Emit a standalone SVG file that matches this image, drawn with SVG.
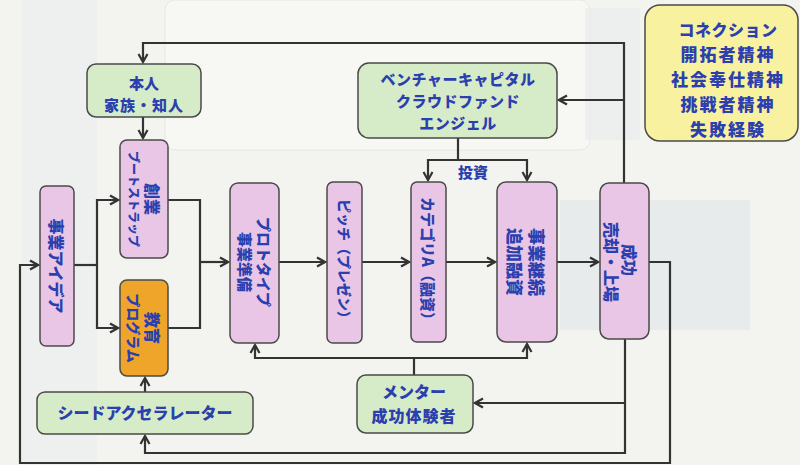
<svg xmlns="http://www.w3.org/2000/svg" width="800" height="465" viewBox="0 0 800 465">
<defs>
<style>
.bg{fill:#f3f4ef}
.box{stroke:#4a4a4a;stroke-width:1.5}
.pink{fill:#e9c6e6}
.green{fill:#d6ecc8}
.orange{fill:#eea52a}
.yellow{fill:#f7f1a0}
.t{font-family:"Noto Sans CJK JP","Noto Sans",sans-serif;font-weight:900;fill:#2b3fae;text-anchor:middle}
.v{dominant-baseline:central}
.c{fill:none;stroke:#333;stroke-width:2.2;stroke-linejoin:miter}
</style>
<marker id="ah" markerUnits="userSpaceOnUse" markerWidth="12" markerHeight="12" viewBox="0 0 12 12" refX="10" refY="6" orient="auto">
<path d="M2,1.5 L10,6 L2,10.5" fill="none" stroke="#333" stroke-width="2.2"/>
</marker>
</defs>
<rect class="bg" x="0" y="0" width="800" height="465"/>
<rect x="22" y="0" width="75" height="465" fill="#e6eaed" opacity="0.45"/>
<rect x="165" y="0" width="425" height="150" rx="10" fill="#f7f8f3" stroke="#e6e8e2" stroke-width="1"/>
<rect x="560" y="200" width="190" height="130" fill="#e4e8eb" opacity="0.8"/>
<rect x="585" y="8" width="55" height="132" fill="#e7ebed" opacity="0.6"/>

<g id="connectors">
<path class="c" d="M624,183 V43 H143 V62" marker-end="url(#ah)"/>
<path class="c" d="M624,100 H559" marker-end="url(#ah)"/>
<path class="c" d="M143,117 V138" marker-end="url(#ah)"/>
<path class="c" d="M74,265 H97"/>
<path class="c" d="M97,265 V200 H118" marker-end="url(#ah)"/>
<path class="c" d="M97,265 V328 H118" marker-end="url(#ah)"/>
<path class="c" d="M168,200 H200 V328 H168"/>
<path class="c" d="M200,262 H228" marker-end="url(#ah)"/>
<path class="c" d="M279,262 H325" marker-end="url(#ah)"/>
<path class="c" d="M362,262 H409" marker-end="url(#ah)"/>
<path class="c" d="M446,262 H495" marker-end="url(#ah)"/>
<path class="c" d="M557,262 H598" marker-end="url(#ah)"/>
<path class="c" d="M649,262 H670 V463 H20 V265 H38" marker-end="url(#ah)"/>
<path class="c" d="M625,339 V453 H145 V436" marker-end="url(#ah)"/>
<path class="c" d="M625,403 H475" marker-end="url(#ah)"/>
<path class="c" d="M414,375 V358"/>
<path class="c" d="M414,358 H255 V345" marker-end="url(#ah)"/>
<path class="c" d="M414,358 H527 V344" marker-end="url(#ah)"/>
<path class="c" d="M145,392 V378" marker-end="url(#ah)"/>
<path class="c" d="M458,138 V160"/>
<path class="c" d="M458,160 H428 V180" marker-end="url(#ah)"/>
<path class="c" d="M458,160 H527 V180" marker-end="url(#ah)"/>
<text class="t" x="473" y="178" font-size="15">投資</text>
</g>

<g id="honnin">
<rect class="box green" x="87" y="64" width="114" height="53" rx="9"/>
<text class="t" x="144" y="89" font-size="15">本人</text>
<text class="t" x="144" y="111" font-size="15" letter-spacing="1">家族・知人</text>
</g>

<g id="vc">
<rect class="box green" x="358" y="63" width="199" height="75" rx="11"/>
<text class="t" x="458" y="85" font-size="15" letter-spacing="0.5">ベンチャーキャピタル</text>
<text class="t" x="458" y="107" font-size="15" letter-spacing="0.5">クラウドファンド</text>
<text class="t" x="458" y="129" font-size="15" letter-spacing="0.5">エンジェル</text>
</g>

<g id="values">
<rect class="box yellow" x="645" y="5" width="153" height="136" rx="15"/>
<text class="t" x="728" y="36" font-size="16" letter-spacing="0.5">コネクション</text>
<text class="t" x="728" y="61" font-size="17" letter-spacing="2">開拓者精神</text>
<text class="t" x="728" y="86" font-size="17" letter-spacing="2">社会奉仕精神</text>
<text class="t" x="728" y="111" font-size="17" letter-spacing="2">挑戦者精神</text>
<text class="t" x="728" y="136" font-size="17" letter-spacing="2">失敗経験</text>
</g>

<g id="idea">
<rect class="box pink" x="40" y="186" width="34" height="160" rx="6"/>
<text class="t v" transform="translate(57,266) rotate(90)" font-size="16">事業アイデア</text>
</g>

<g id="sogyo">
<rect class="box pink" x="120" y="140" width="48" height="118" rx="7"/>
<g transform="translate(144,199) rotate(90)">
<text class="t v" x="0" y="-9" font-size="16">創業</text>
<text class="t v" x="0" y="10" font-size="12">ブートストラップ</text>
</g>
</g>

<g id="kyoiku">
<rect class="box orange" x="120" y="280" width="48" height="96" rx="7"/>
<g transform="translate(144,328) rotate(90)">
<text class="t v" x="0" y="-9" font-size="16">教育</text>
<text class="t v" x="0" y="10" font-size="14">プログラム</text>
</g>
</g>

<g id="proto">
<rect class="box pink" x="230" y="183" width="49" height="160" rx="8"/>
<g transform="translate(254.5,262) rotate(90)">
<text class="t v" x="0" y="-10" font-size="15">プロトタイプ</text>
<text class="t v" x="0" y="9" font-size="15">事業準備</text>
</g>
</g>

<g id="pitch">
<rect class="box pink" x="327" y="182" width="35" height="161" rx="6"/>
<text class="t v" transform="translate(344.5,262) rotate(90)" font-size="14">ピッチ（プレゼン）</text>
</g>

<g id="categoryA">
<rect class="box pink" x="411" y="182" width="35" height="160" rx="6"/>
<text class="t v" transform="translate(428.5,262) rotate(90)" font-size="15">カテゴリA（融資）</text>
</g>

<g id="keizoku">
<rect class="box pink" x="497" y="182" width="60" height="160" rx="9"/>
<g transform="translate(527,262) rotate(90)">
<text class="t v" x="0" y="-10" font-size="17">事業継続</text>
<text class="t v" x="0" y="12" font-size="17">追加融資</text>
</g>
</g>

<g id="seiko">
<rect class="box pink" x="600" y="183" width="49" height="156" rx="9"/>
<g transform="translate(621,262) rotate(90)">
<text class="t v" x="-2" y="-9" font-size="16">成功</text>
<text class="t v" x="0" y="9" font-size="16">売却・上場</text>
</g>
</g>

<g id="seed">
<rect class="box green" x="37" y="392" width="216" height="42" rx="8"/>
<text class="t" x="145" y="419" font-size="16">シードアクセラレーター</text>
</g>

<g id="mentor">
<rect class="box green" x="357" y="375" width="116" height="58" rx="9"/>
<text class="t" x="414" y="398" font-size="16">メンター</text>
<text class="t" x="414" y="422" font-size="16" letter-spacing="1">成功体験者</text>
</g>
</svg>
